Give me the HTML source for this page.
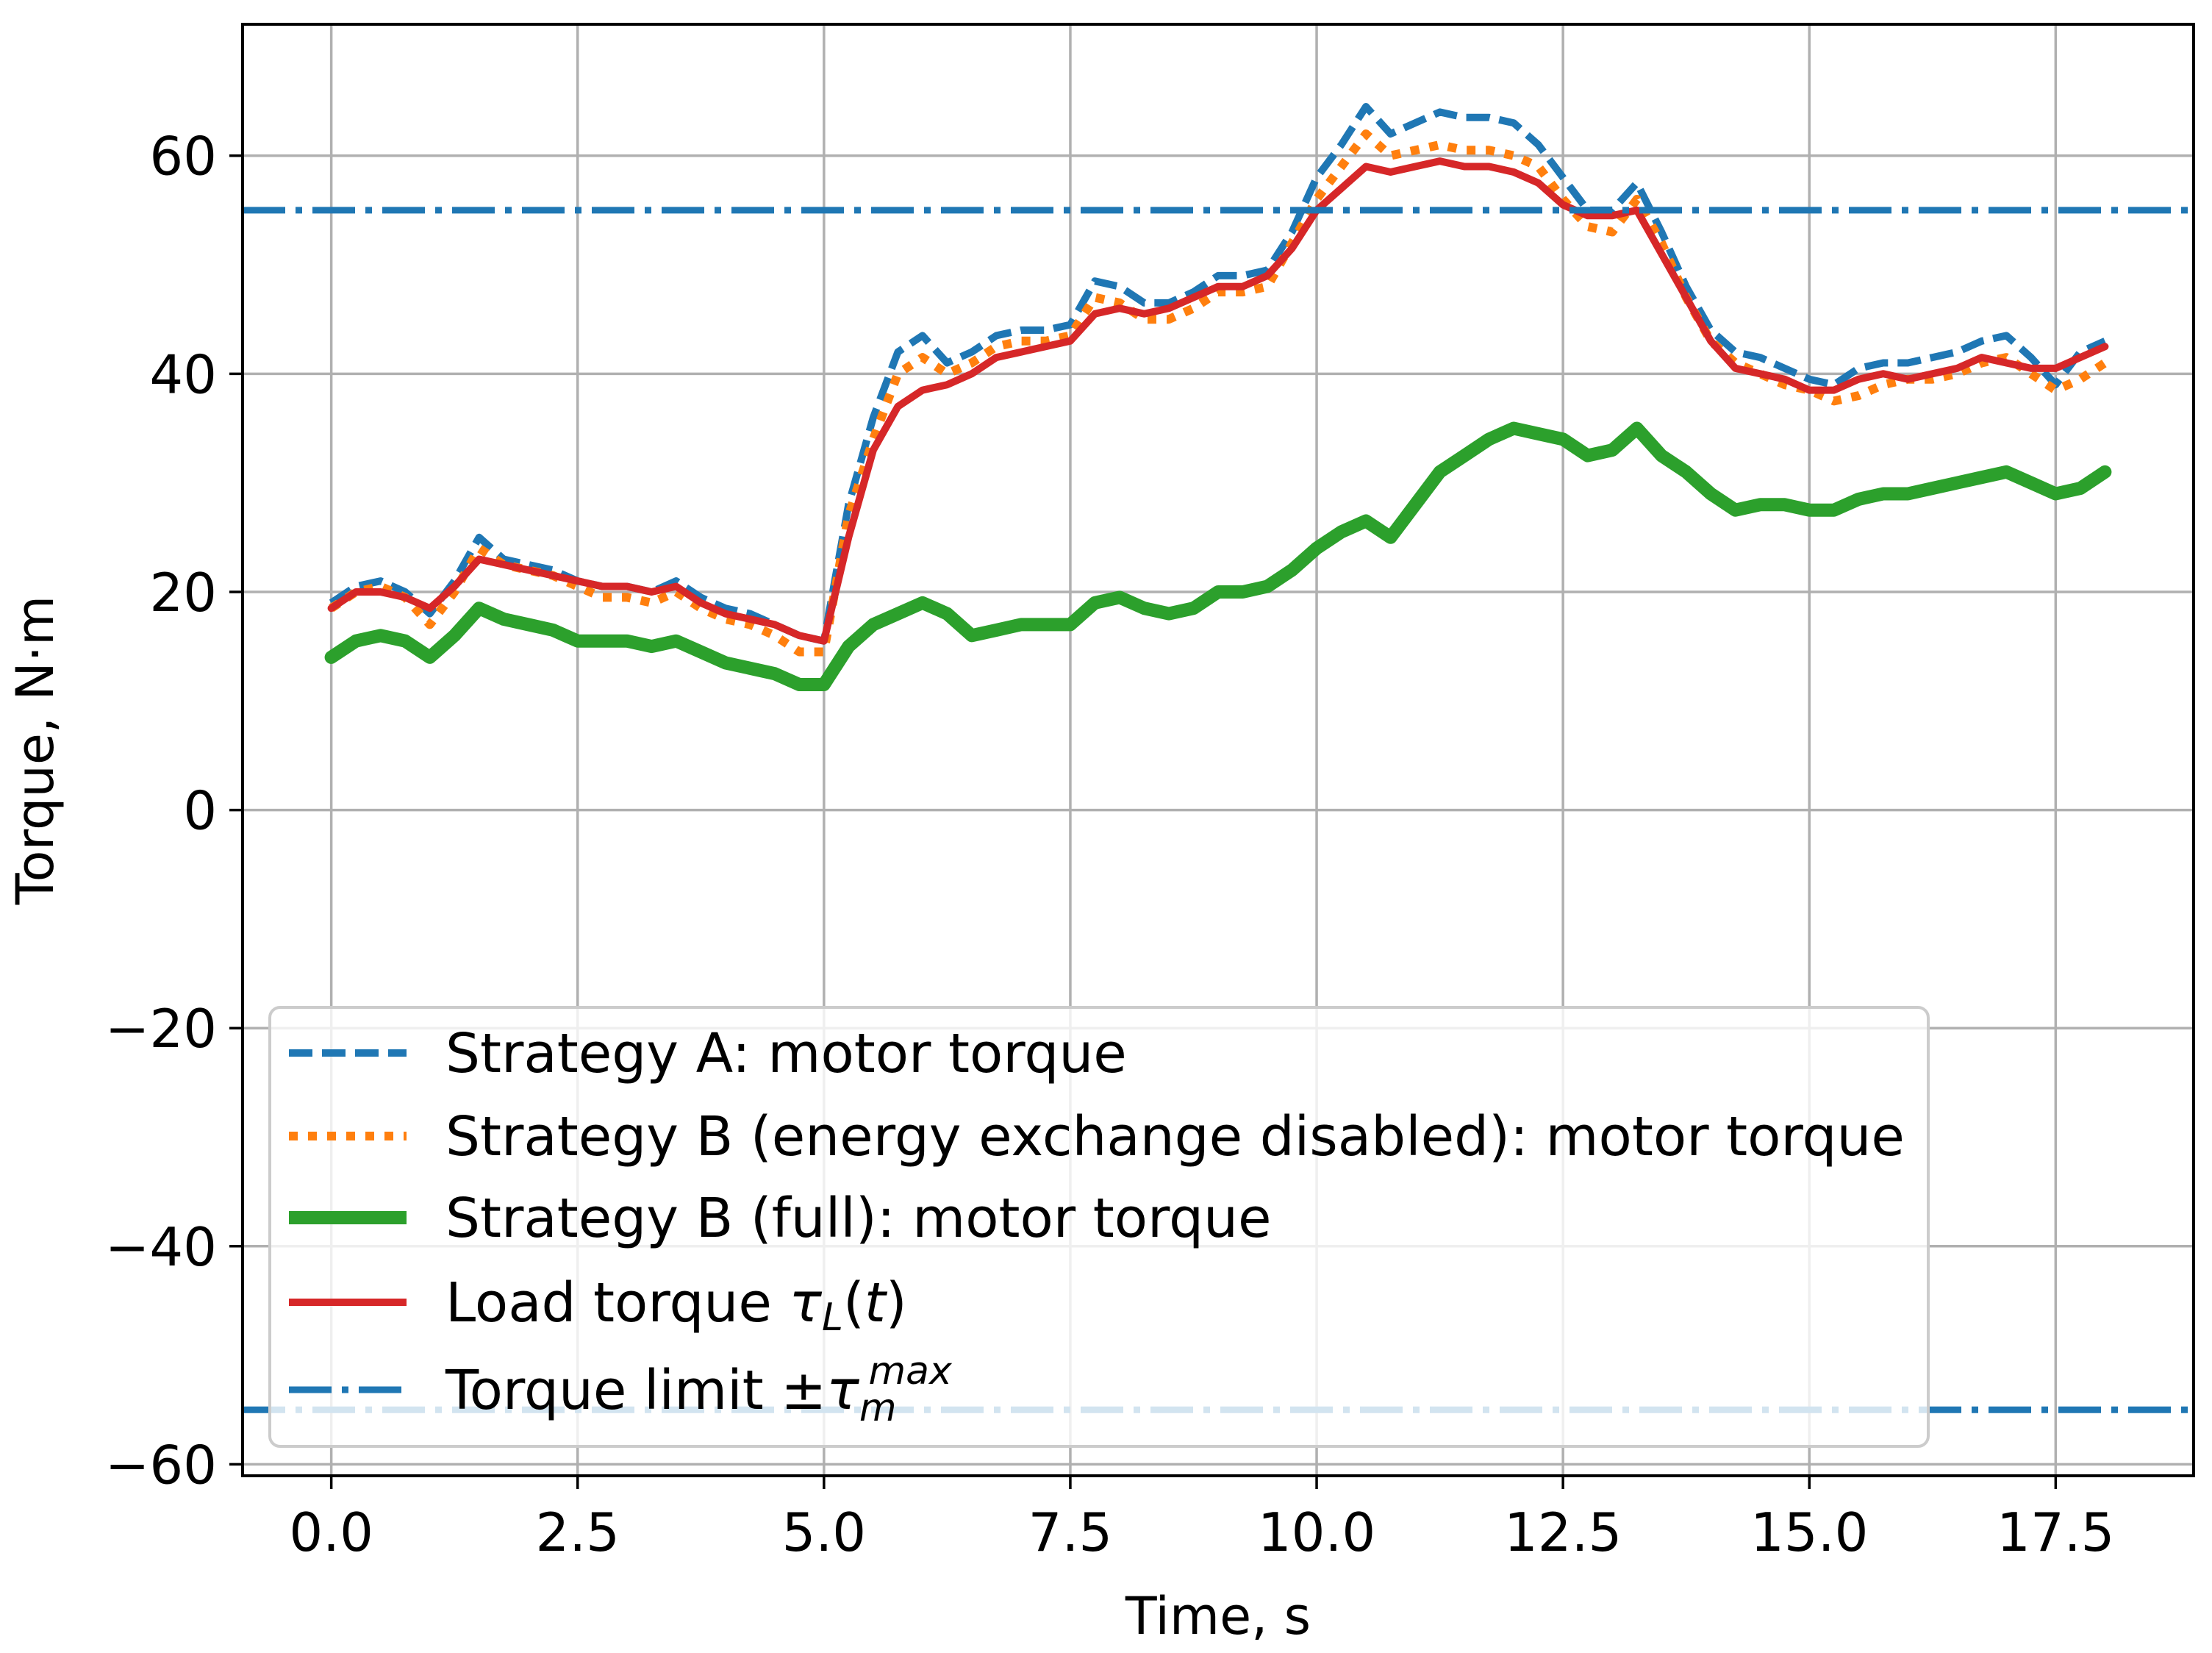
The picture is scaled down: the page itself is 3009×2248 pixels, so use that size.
<!DOCTYPE html>
<html><head><meta charset="utf-8"><style>
html,body{margin:0;padding:0;background:#fff}
svg{display:block;font-family:"DejaVu Sans","Liberation Sans",sans-serif}
</style></head><body>
<svg id="chart" width="3009" height="2248" viewBox="0 0 3009 2248" xmlns="http://www.w3.org/2000/svg">
<rect width="3009" height="2248" fill="#fff"/>
<g id="grid"></g>
<g id="series"></g>
<g id="axes"></g>
<g id="legend"></g>
</svg>
<script>
const xTicks = [0, 2.5, 5, 7.5, 10, 12.5, 15, 17.5];
const xTickLabels = ["0.0","2.5","5.0","7.5","10.0","12.5","15.0","17.5"];
const yTicks = [-60, -40, -20, 0, 20, 40, 60];
const yTickLabels = ["\u221260","\u221240","\u221220","0","20","40","60"];
const torqueLimit = 55;
const dt = 0.25;
const loadTorque = [18.5,20,20,19.5,18.5,20.5,23,22.5,22,21.5,21,20.5,20.5,20,20.5,19,18,17.5,17,16,15.5,25,33,37,38.5,39,40,41.5,42,42.5,43,45.5,46,45.5,46,47,48,48,49,51.5,55,57,59,58.5,59,59.5,59,59,58.5,57.5,55.5,54.5,54.5,55,51,47,43,40.5,40,39.5,38.5,38.5,39.5,40,39.5,40,40.5,41.5,41,40.5,40.5,41.5,42.5];
const strategyA = [19,20.5,21,20,18,21,25,23,22.5,22,21,20.5,20.5,20,21,19.5,18.5,18,17,16,15.5,28,36,42,43.5,41,42,43.5,44,44,44.5,48.5,48,46.5,46.5,47.5,49,49,49.5,53,58,61,64.5,62,63,64,63.5,63.5,63,61,58,55,55,57.5,53,48,44,42,41.5,40.5,39.5,39,40.5,41,41,41.5,42,43,43.5,41.5,39,42,43];
const strategyBNoExchange = [18.5,20,20.5,19.5,17,20,24,22.5,22,21.5,20.5,19.5,19.5,19,20,18.5,17.5,17,16,14.5,14.5,27,34,40,41.5,40,41,42.5,43,43,43.5,47,46.5,45,45,46,47.5,47.5,48,52,56,59,62,60,60.5,61,60.5,60.5,60,59,56,53.5,53,56,52,47,43,41,40,39,38.5,37.5,38,39,39.5,39.5,40,41,41.5,40,38.5,39.5,41];
const strategyBFull = [14,15.5,16,15.5,14,16,18.5,17.5,17,16.5,15.5,15.5,15.5,15,15.5,14.5,13.5,13,12.5,11.5,11.5,15,17,18,19,18,16,16.5,17,17,17,19,19.5,18.5,18,18.5,20,20,20.5,22,24,25.5,26.5,25,28,31,32.5,34,35,34.5,34,32.5,33,35,32.5,31,29,27.5,28,28,27.5,27.5,28.5,29,29,29.5,30,30.5,31,30,29,29.5,31];

const NS="http://www.w3.org/2000/svg";
const L=330,R=2984,T=33,B=2007;
const xMin=-0.9,xMax=18.9,yMin=-61.05,yMax=72.05;
function sx(v){return L+(v-xMin)/(xMax-xMin)*(R-L);}
function sy(v){return B-(v-yMin)/(yMax-yMin)*(B-T);}
function mk(tag,attrs,parent){const e=document.createElementNS(NS,tag);for(const k in attrs)e.setAttribute(k,attrs[k]);parent.appendChild(e);return e;}
const grid=document.getElementById('grid'),series=document.getElementById('series'),axes=document.getElementById('axes'),legend=document.getElementById('legend');

xTicks.forEach((t,i)=>{
  const g=mk('line',{x1:sx(t),x2:sx(t),y1:T,y2:B,stroke:'#b0b0b0','stroke-width':3.5},grid);
  
  
  const tk=mk('line',{x1:sx(t),x2:sx(t),y1:B,y2:B+18,stroke:'#000','stroke-width':3.5},axes);
  
  
  const tx=mk('text',{x:sx(t),y:B+102,'font-size':72,'text-anchor':'middle',fill:'#000'},axes);
  tx.textContent=xTickLabels[i];
  
  
});
yTicks.forEach((t,i)=>{
  const g=mk('line',{x1:L,x2:R,y1:sy(t),y2:sy(t),stroke:'#b0b0b0','stroke-width':3.5},grid);
  
  
  const tk=mk('line',{x1:L-18,x2:L,y1:sy(t),y2:sy(t),stroke:'#000','stroke-width':3.5},axes);
  
  
  const tx=mk('text',{x:L-35,y:sy(t)+26,'font-size':72,'text-anchor':'end',fill:'#000'},axes);
  tx.textContent=yTickLabels[i];
  
  
});
const frame=mk('rect',{x:L,y:T,width:R-L,height:B-T,fill:'none',stroke:'#000','stroke-width':4},axes);


const xt=mk('text',{x:(L+R)/2,y:2222,'font-size':70,'text-anchor':'middle'},axes);
xt.textContent='Time, s';


const yt=mk('text',{x:0,y:0,'font-size':70,'text-anchor':'middle',transform:`translate(72,${(T+B)/2}) rotate(-90)`},axes);
yt.textContent='Torque, N\u00b7m';



function pts(arr){return arr.map((v,i)=>sx(i*dt).toFixed(1)+','+sy(v).toFixed(1)).join(' ');}
const sA=mk('polyline',{points:pts(strategyA),fill:'none',stroke:'#1f77b4','stroke-width':10,'stroke-dasharray':'32 13','stroke-linejoin':'round'},series);


const sB=mk('polyline',{points:pts(strategyBNoExchange),fill:'none',stroke:'#ff7f0e','stroke-width':12,'stroke-dasharray':'12 14','stroke-linejoin':'round'},series);


const sG=mk('polyline',{points:pts(strategyBFull),fill:'none',stroke:'#2ca02c','stroke-width':18,'stroke-linejoin':'round','stroke-linecap':'round'},series);


const sR=mk('polyline',{points:pts(loadTorque),fill:'none',stroke:'#d62728','stroke-width':10,'stroke-linejoin':'round','stroke-linecap':'round'},series);


[torqueLimit,-torqueLimit].forEach(v=>{
  const l=mk('line',{x1:L,x2:R,y1:sy(v),y2:sy(v),stroke:'#1f77b4','stroke-width':9,'stroke-dasharray':'58 14 9 14'},series);
  
  
});

const box=mk('rect',{x:367,y:1370,width:2256,height:597,rx:14,fill:'rgba(255,255,255,0.8)',stroke:'#cccccc','stroke-width':4},legend);


const rows=[
 {y:1432,stroke:'#1f77b4',w:10,dash:'32 13',label:'Strategy A: motor torque',name:'legend-entry-strategy-a'},
 {y:1545,stroke:'#ff7f0e',w:12,dash:'12 14',label:'Strategy B (energy exchange disabled): motor torque',name:'legend-entry-strategy-b-disabled'},
 {y:1656,stroke:'#2ca02c',w:18,dash:'',label:'Strategy B (full): motor torque',name:'legend-entry-strategy-b-full'},
 {y:1771,stroke:'#d62728',w:10,dash:'',label:null,name:'legend-entry-load-torque'},
 {y:1890,stroke:'#1f77b4',w:9,dash:'58 14 9 14',label:null,name:'legend-entry-torque-limit'}
];
rows.forEach((r,i)=>{
  const g=mk('g',{},legend);
  
  
  const a={x1:393,x2:553,y1:r.y,y2:r.y,stroke:r.stroke,'stroke-width':r.w};
  if(r.dash)a['stroke-dasharray']=r.dash;
  mk('line',a,g);
  const t=mk('text',{x:606,y:r.y+26,'font-size':74,fill:'#000'},g);
  if(r.label){t.textContent=r.label;}
  else if(i===3){
    t.innerHTML='Load torque <tspan font-style="italic">\u03c4</tspan><tspan font-style="italic" font-size="52" dy="12">L</tspan><tspan dy="-12">(</tspan><tspan font-style="italic">t</tspan>)';
  } else {
    t.innerHTML='Torque limit \u00b1<tspan font-style="italic">\u03c4</tspan><tspan font-style="italic" font-size="52" dy="16">m</tspan><tspan font-style="italic" font-size="52" dx="-38" dy="-50">max</tspan>';
  }
});
</script>
</body></html>
